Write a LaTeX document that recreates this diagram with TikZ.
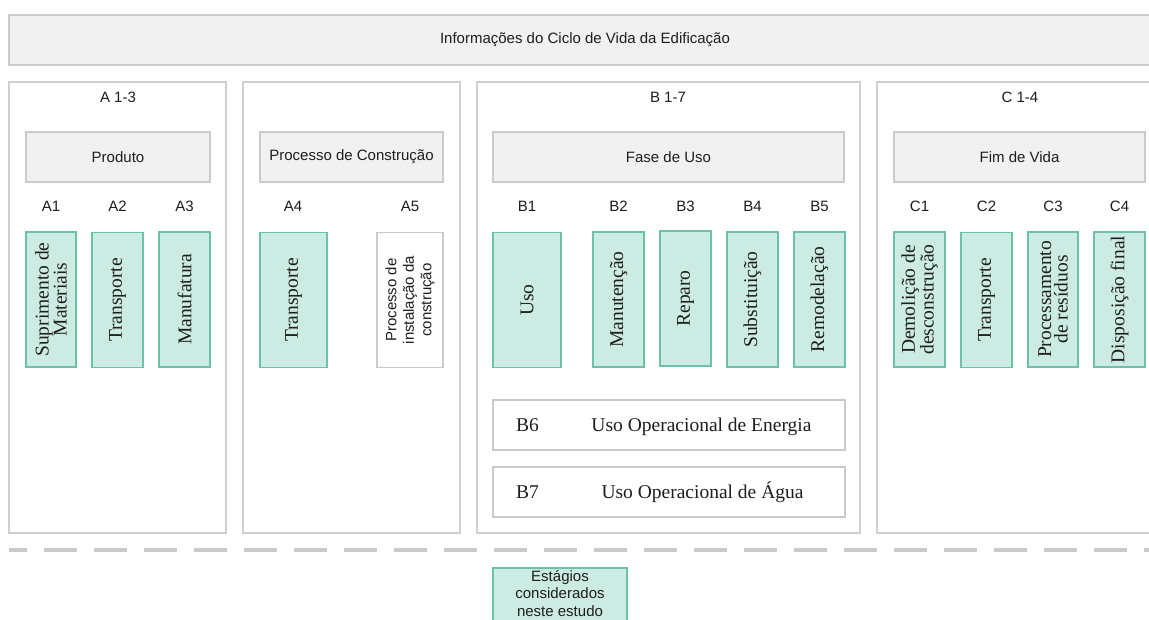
\documentclass[tikz,border=0pt]{standalone}
\usepackage{fontspec}
\setmainfont{Liberation Serif}
\setsansfont{Liberation Sans}
\definecolor{tealfill}{HTML}{CCEBE3}
\definecolor{tealline}{HTML}{6CC2A9}
\definecolor{hdrfill}{HTML}{F1F1F1}
\definecolor{hdrline}{HTML}{CBCBCB}
\definecolor{panelline}{HTML}{D0D0D0}
\definecolor{dashgray}{HTML}{CACACA}
\definecolor{txt}{HTML}{1E1E1E}
\tikzset{
  x=1pt, y=-1pt,
  every node/.style={text=txt, inner sep=0pt, outer sep=0pt},
  sanstxt/.style={font=\sffamily\fontsize{15}{17.5}\selectfont},
  seriftxt/.style={font=\rmfamily\fontsize{19.5}{16.5}\selectfont},
  panelbox/.style={draw=panelline, line width=1.3pt, fill=white},
  hdrbox/.style={draw=hdrline, line width=1.3pt, fill=hdrfill, minimum height=50pt, sanstxt},
  tealbox/.style={draw=tealline, line width=1.4pt, fill=tealfill, minimum height=135pt},
  whitebox/.style={draw=hdrline, line width=1.3pt, fill=white, minimum height=135pt},
  vtext/.style={rotate=90, seriftxt, align=center},
  rowbox/.style={draw=hdrline, line width=1.3pt, fill=white, minimum width=352pt, minimum height=50pt},
}
\begin{document}
\begin{tikzpicture}
\useasboundingbox (0,0) rectangle (1149,620);
\fill[white] (0,0) rectangle (1149,620);

% top bar
\node[hdrbox, minimum width=1152pt] (top) at (585,40) {Informações do Ciclo de Vida da Edificação};

% panels
\node[panelbox, minimum width=217pt, minimum height=451pt] (pA) at (117.5,307.5) {};
\node[panelbox, minimum width=217pt, minimum height=451pt] (pP) at (351.5,307.5) {};
\node[panelbox, minimum width=383pt, minimum height=451pt] (pB) at (668.5,307.5) {};
\node[panelbox, minimum width=286pt, minimum height=451pt] (pC) at (1020,307.5) {};

% panel titles
\node[sanstxt, anchor=base] (tA) at (118,102.5) {A 1-3};
\node[sanstxt, anchor=base] (tB) at (668,102.5) {B 1-7};
\node[sanstxt, anchor=base] (tC) at (1020,102.5) {C 1-4};

% headers
\node[hdrbox, minimum width=184pt] (hA) at (118,157) {Produto};
\node[hdrbox, minimum width=183pt] (hP) at (351.5,157) {Processo de Construção};
\node[hdrbox, minimum width=351pt] (hB) at (668.5,157) {Fase de Uso};
\node[hdrbox, minimum width=251pt] (hC) at (1019.5,157) {Fim de Vida};

% stage codes
\foreach \lab/\xx in {A1/51,A2/117.5,A3/184.5,A4/293,A5/410,B1/527,B2/618.5,B3/685.5,B4/752.5,B5/819.5,C1/919.5,C2/986.5,C3/1053,C4/1119.5}
  \node[sanstxt, anchor=base] (l\lab) at (\xx,211.5) {\lab};

% stage boxes
\node[tealbox, minimum width=50pt] (A1) at (51,299.5) {};
\node[vtext] at (A1) {Suprimento de\\Materiais};
\node[tealbox, minimum width=51pt] (A2) at (117.5,300) {};
\node[vtext] at (A2) {Transporte};
\node[tealbox, minimum width=51pt] (A3) at (184.5,299.5) {};
\node[vtext] at (A3) {Manufatura};
\node[tealbox, minimum width=67pt] (A4) at (293.5,300) {};
\node[vtext] at (A4) {Transporte};
\node[whitebox, minimum width=66pt] (A5) at (410,300) {};
\node[rotate=90, sanstxt, align=center] at (A5) {Processo de\\instalação da\\construção};

\node[tealbox, minimum width=68pt] (B1) at (527,300) {};
\node[vtext] at (B1) {Uso};
\node[tealbox, minimum width=51pt] (B2) at (618.5,299.5) {};
\node[vtext] at (B2) {Manutenção};
\node[tealbox, minimum width=51pt] (B3) at (685.5,298.5) {};
\node[vtext] at (B3) {Reparo};
\node[tealbox, minimum width=51pt] (B4) at (752.5,299.5) {};
\node[vtext] at (B4) {Substituição};
\node[tealbox, minimum width=51pt] (B5) at (819.5,299.5) {};
\node[vtext] at (B5) {Remodelação};

\node[tealbox, minimum width=51pt] (C1) at (919.5,299.5) {};
\node[vtext] at (C1) {Demolição de\\desconstrução};
\node[tealbox, minimum width=51pt] (C2) at (986.5,300) {};
\node[vtext] at (C2) {Transporte};
\node[tealbox, minimum width=50pt] (C3) at (1053,299.5) {};
\node[vtext] at (C3) {Processamento\\de resíduos};
\node[tealbox, minimum width=51pt] (C4) at (1119.5,299.5) {};
\node[vtext] at (C4) {Disposição final};

% B6 / B7
\node[rowbox] (B6) at (669,425) {};
\node[seriftxt, anchor=base west] (B6code) at (516,431) {B6};
\node[seriftxt, anchor=base] (B6txt) at (701.5,431) {Uso Operacional de Energia};
\node[rowbox] (B7) at (669,492) {};
\node[seriftxt, anchor=base west] (B7code) at (516,498) {B7};
\node[seriftxt, anchor=base] (B7txt) at (702.5,498) {Uso Operacional de Água};

% dashed separator
\coordinate (dl) at (9,550);
\coordinate (dr) at (1149,550);
\draw[dashgray, line width=3.5pt, dash pattern=on 33pt off 17pt, dash phase=15pt] (dl) -- (dr);

% legend
\node[tealbox, minimum width=134pt, minimum height=58pt] (leg) at (560,597) {};
\node[sanstxt, align=center, anchor=north] (legtxt) at (560,570) {Estágios\\considerados\\neste estudo};
\end{tikzpicture}
\end{document}
